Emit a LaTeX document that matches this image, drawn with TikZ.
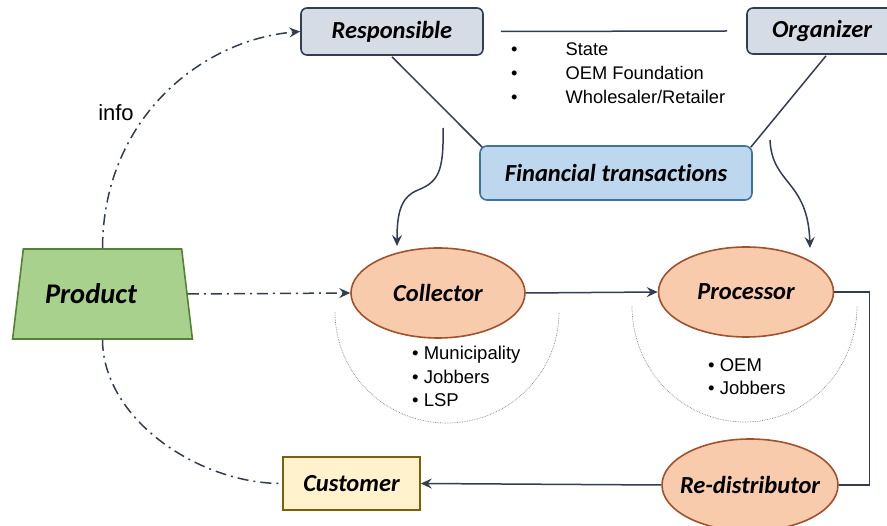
\documentclass[tikz,border=0pt]{standalone}
\usepackage{fontspec}
\setmainfont{Liberation Sans}
\newfontfamily\calfont[Ligatures=CommonOff]{Carlito}
\usetikzlibrary{shapes.geometric,arrows.meta}
\definecolor{lnc}{HTML}{323E4F}
\definecolor{grayfill}{HTML}{D6DCE5}
\definecolor{blufill}{HTML}{BDD7EE}
\definecolor{bluline}{HTML}{41719C}
\definecolor{grnfill}{HTML}{A9D18E}
\definecolor{grnline}{HTML}{548235}
\definecolor{orfill}{HTML}{F8CBAD}
\definecolor{orline}{HTML}{A0522D}
\definecolor{yelfill}{HTML}{FFF2CC}
\definecolor{yelline}{HTML}{7F6000}
\begin{document}
\begin{tikzpicture}[x=1pt,y=-1pt,
  lbl/.style={font=\calfont\fontsize{24.5}{27}\selectfont\bfseries\itshape, text=black},
  rbox/.style={lbl, draw=lnc, fill=grayfill, line width=1.6pt, rounded corners=6pt, inner sep=0pt},
  finbox/.style={lbl, draw=bluline, fill=blufill, line width=1.6pt, rounded corners=7pt, inner sep=0pt},
  oval/.style={lbl, ellipse, draw=orline, fill=orfill, line width=1.6pt, inner sep=0pt},
  conn/.style={draw=lnc, line width=1.5pt},
  tip/.style={-{Stealth[length=11pt,width=10pt,inset=4pt]}},
  dd/.style={dash pattern=on 11pt off 5pt on 2pt off 5pt},
  semi/.style={draw=gray, line width=0.7pt, densely dotted},
  btxt/.style={text=black, inner sep=0pt, align=left}
]
\useasboundingbox (0,0) rectangle (887,526);

% nodes
\node[rbox, minimum width=182pt, minimum height=47pt] (resp) at (392,31.5) {Responsible};
\node[rbox, minimum width=150pt, minimum height=46pt] (org) at (822,31) {Organizer};
\node[finbox, minimum width=272pt, minimum height=54pt] (fin) at (616,173) {Financial transactions};
\node[lbl, trapezium, trapezium left angle=77, trapezium right angle=77, trapezium stretches=true,
      minimum width=181pt, minimum height=90pt, draw=grnline, fill=grnfill, line width=1.6pt, inner sep=0pt,
      font=\calfont\fontsize{28.5}{30}\selectfont\bfseries\itshape]
      (prod) at (102.5,294) {\hspace*{-23pt}Product};
\node[oval, minimum width=174pt, minimum height=90pt] (coll) at (438,293) {\makebox[0pt]{Collector}};
\node[oval, minimum width=175pt, minimum height=90pt] (proc) at (746,292) {\makebox[0pt]{Processor}};
\node[oval, minimum width=176pt, minimum height=92pt] (redis) at (750,485) {\makebox[0pt]{Re-distributor}};
\node[lbl, draw=yelline, fill=yelfill, line width=1.6pt, minimum width=137pt, minimum height=53pt, inner sep=0pt]
      (cust) at (351.5,483.5) {Customer};

% bullet lists
\node[btxt, anchor=west, font=\fontsize{18.3}{24}\selectfont] (tlist) at (511,75)
  {\begin{tabular}{@{}l@{\hspace{48pt}}l@{}}•&State\\•&OEM Foundation\\•&Wholesaler/Retailer\end{tabular}};
\node[btxt, anchor=west, font=\fontsize{18.5}{23.5}\selectfont] (clist) at (412,376.5)
  {• Municipality\\• Jobbers\\• LSP};
\node[btxt, anchor=west, font=\fontsize{18.5}{23.5}\selectfont] (plist) at (708,376.5)
  {• OEM\\• Jobbers};
\node[text=black, font=\fontsize{22}{24}\selectfont, inner sep=0pt] (info) at (116,113) {info};

% dotted semicircles
\draw[semi] (335,312) arc[start angle=180, end angle=360, x radius=112pt, y radius=111pt];
\draw[semi] (632,306) arc[start angle=180, end angle=360, x radius=112.5pt, y radius=116pt];

% connectors
\draw[conn] ([xshift=17pt]resp.east) -- ([xshift=-19pt]org.west);
\draw[conn] ([yshift=-1pt]resp.south) -- ([xshift=3pt,yshift=-2pt]fin.north west);
\draw[conn] ([xshift=4pt,yshift=-1pt]org.south) -- ([xshift=-2pt,yshift=-2pt]fin.north east);

\coordinate (a1s) at (443,128);
\coordinate (a1e) at (397,246);
\coordinate (a2s) at (770,140);
\coordinate (a2e) at (810,248);
\draw[conn, tip] (a1s) .. controls (444,172) and (438,182) .. (418,190) .. controls (401,197) and (397,212) .. (a1e);
\draw[conn, tip] (a2s) .. controls (772,185) and (808,180) .. (a2e);

\draw[conn, dd, tip] (prod.east) -- (coll.west);
\draw[conn, tip] (coll.east) -- (proc.west);
\draw[conn] (proc.east) -- ++(35,0) |- (redis.east);
\draw[conn, tip] (redis.west) -- (cust.east);
\draw[conn, dd, tip] (prod.north) .. controls (103,120) and (200,40) .. (resp.west);
\draw[conn, dd] (prod.south) .. controls (103,420) and (200,484) .. (cust.west);
\end{tikzpicture}
\end{document}
